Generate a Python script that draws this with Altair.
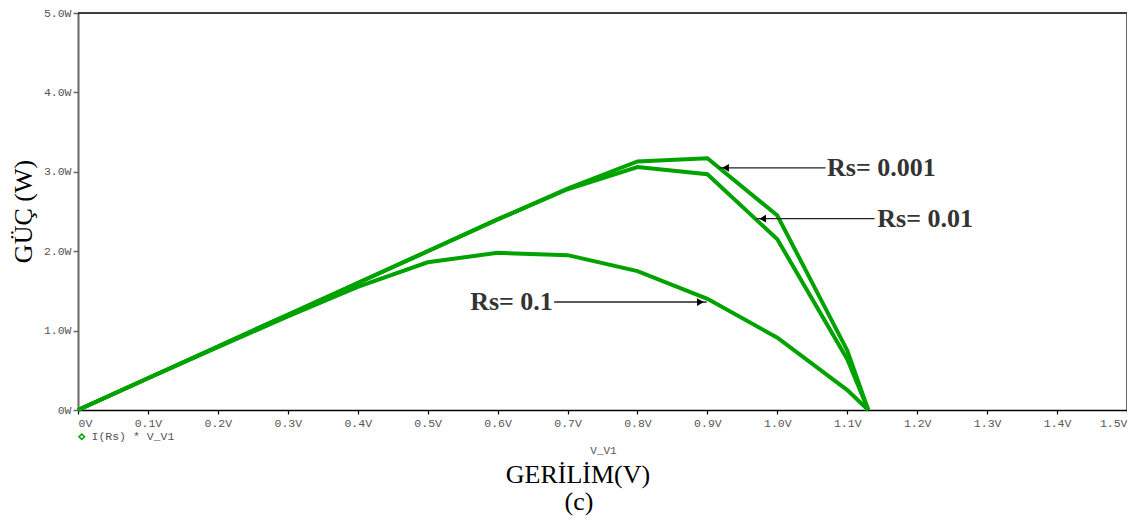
import altair as alt
import pandas as pd

# ---------------- data ----------------
V = [0.0, 0.1, 0.2, 0.3, 0.4, 0.5, 0.6, 0.7, 0.8, 0.9, 1.0, 1.1, 1.13]
P_rs0001 = [0, 0.40, 0.80, 1.20, 1.60, 2.00, 2.40, 2.79, 3.13, 3.17, 2.45, 0.75, 0]
P_rs001 = [0, 0.40, 0.80, 1.20, 1.60, 2.00, 2.40, 2.78, 3.06, 2.97, 2.15, 0.64, 0]
P_rs01 = [0, 0.40, 0.79, 1.18, 1.55, 1.86, 1.98, 1.95, 1.75, 1.40, 0.91, 0.25, 0]
series_names = ["Rs=0.001", "Rs=0.01", "Rs=0.1"]
legend_label = "I(Rs) * V_V1"

x_ticks = [0.0, 0.1, 0.2, 0.3, 0.4, 0.5, 0.6, 0.7, 0.8, 0.9, 1.0, 1.1, 1.2, 1.3, 1.4, 1.5]
x_tick_labels = ["0V", "0.1V", "0.2V", "0.3V", "0.4V", "0.5V", "0.6V", "0.7V",
                 "0.8V", "0.9V", "1.0V", "1.1V", "1.2V", "1.3V", "1.4V", "1.5V"]
y_ticks = [0, 1, 2, 3, 4, 5]
y_tick_labels = ["0W", "1.0W", "2.0W", "3.0W", "4.0W", "5.0W"]

ann_text = ["Rs= 0.001", "Rs= 0.01", "Rs= 0.1"]
ann_y = [3.05, 2.41, 1.36]
ann_from = [1.069, 1.139, 0.681]
ann_tip = [0.917, 0.970, 0.899]
ann_head = [0.926, 0.979, 0.890]
ann_head_shape = ["triangle-left", "triangle-left", "triangle-right"]
ann_text_x = [1.071, 1.143, 0.679]
ann_align = ["left", "left", "right"]

GREEN = "#00a200"
GRAY = "#555555"

# ---------------- tables ----------------
rows = []
for name, ps in zip(series_names, [P_rs0001, P_rs001, P_rs01]):
    for v, p in zip(V, ps):
        rows.append({"V": v, "P": p, "Rs": name, "leg": legend_label})
curves_df = pd.DataFrame(rows)

ann_df = pd.DataFrame({
    "text": ann_text, "y": ann_y, "x_from": ann_from, "x_tip": ann_tip,
    "x_head": ann_head, "shape": ann_head_shape, "tx": ann_text_x, "align": ann_align,
})
frame_df = pd.DataFrame({"x0": [0.0], "x1": [1.5], "y0": [0.0], "y1": [5.0]})

xscale = alt.Scale(domain=[0, 1.5], nice=False, zero=False)
yscale = alt.Scale(domain=[0, 5], nice=False, zero=False)

xlab_expr = "[" + ",".join("'%s'" % s for s in x_tick_labels) + "][round(datum.value*10)]"
ylab_expr = "[" + ",".join("'%s'" % s for s in y_tick_labels) + "][round(datum.value)]"

xaxis = alt.Axis(values=x_ticks, labelExpr=xlab_expr, title="V_V1", grid=False,
                 labelFlush=True, labelFont="Liberation Mono", labelFontSize=11.5,
                 labelColor=GRAY, labelPadding=3, tickSize=4, tickColor="black",
                 domainColor="black", domainWidth=1.5, tickWidth=1.2,
                 titleFont="Liberation Mono", titleFontSize=11, titleColor=GRAY,
                 titleFontWeight="normal", titleX=525, titleY=40, titleBaseline="middle",
                 titleAlign="center")
yaxis = alt.Axis(values=y_ticks, labelExpr=ylab_expr, title="GÜÇ (W)", grid=False,
                 labelFont="Liberation Mono", labelFontSize=11.5, labelColor=GRAY,
                 labelPadding=2, tickSize=5, tickColor="#666666", tickWidth=1.5,
                 domainColor="#666666", domainWidth=2,
                 titleFont="Liberation Serif", titleFontSize=26, titleColor="black",
                 titleFontWeight="normal", titleX=-55, titleY=198, titleAngle=270,
                 titleBaseline="middle", titleAlign="center")


def X(field):
    return alt.X(field, type="quantitative", scale=xscale, axis=xaxis)


def Y(field):
    return alt.Y(field, type="quantitative", scale=yscale, axis=yaxis)


curves = alt.Chart(curves_df).mark_line(strokeWidth=4, strokeJoin="miter").encode(
    x=X("V"), y=Y("P"), detail="Rs:N", order="V:Q",
    color=alt.Color("leg:N", scale=alt.Scale(range=[GREEN]),
                    legend=alt.Legend(orient="none", legendX=-2, legendY=418, title=None,
                                      symbolType="diamond", symbolSize=30,
                                      symbolStrokeColor=GREEN, symbolFillColor="white",
                                      symbolStrokeWidth=1.5, labelFont="Liberation Mono",
                                      labelFontSize=11.5, labelColor=GRAY, labelOffset=4,
                                      padding=0)),
)

top_rule = alt.Chart(frame_df).mark_rule(color="black", strokeWidth=1.5).encode(
    x=X("x0"), x2="x1", y=Y("y1"))
right_rule = alt.Chart(frame_df).mark_rule(color="#666666", strokeWidth=2).encode(
    x=X("x1"), y=Y("y0"), y2="y1")

arrows = alt.Chart(ann_df).mark_rule(color="#222222", strokeWidth=1.3).encode(
    x=X("x_from"), x2="x_tip", y=Y("y"))
heads = alt.Chart(ann_df).mark_point(filled=True, color="black", size=60, opacity=1).encode(
    x=X("x_head"), y=Y("y"),
    shape=alt.Shape("shape:N", scale=None, legend=None))

texts_left = alt.Chart(ann_df[ann_df["align"] == "left"]).mark_text(
    align="left", baseline="middle", font="Liberation Serif", fontSize=26,
    fontWeight="bold", color="#333333").encode(x=X("tx"), y=Y("y"), text="text:N")
texts_right = alt.Chart(ann_df[ann_df["align"] == "right"]).mark_text(
    align="right", baseline="middle", font="Liberation Serif", fontSize=26,
    fontWeight="bold", color="#333333").encode(x=X("tx"), y=Y("y"), text="text:N")

one = pd.DataFrame({"a": [0]})
xtitle = alt.Chart(one).mark_text(font="Liberation Serif", fontSize=26, color="black",
                                  align="center", baseline="middle").encode(
    x=alt.value(500), y=alt.value(462), text=alt.value("GERİLİM(V)"))
sub = alt.Chart(one).mark_text(font="Liberation Serif", fontSize=26, color="black",
                               align="center", baseline="alphabetic").encode(
    x=alt.value(501), y=alt.value(497), text=alt.value("(c)"))

chart = alt.layer(curves, top_rule, right_rule, arrows, heads, texts_left, texts_right,
                  xtitle, sub).properties(
    width=1049, height=397,
    autosize=alt.AutoSizeParams(type="none"),
    padding={"left": 70, "top": 5, "right": 0, "bottom": 107},
).configure_view(stroke=None).configure(background="white")

chart.save("out.html", embed_options={"renderer": "svg", "actions": False})
